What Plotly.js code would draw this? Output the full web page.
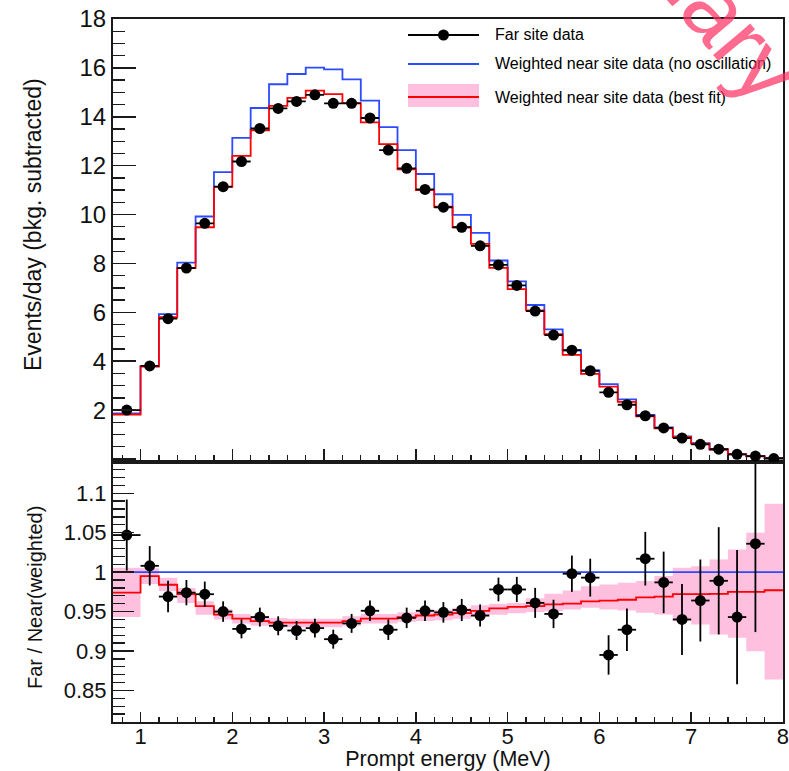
<!DOCTYPE html>
<html><head><meta charset="utf-8">
<script src="https://cdn.plot.ly/plotly-3.0.1.min.js"></script>
<style>html,body{margin:0;padding:0;background:#fff}#chart{width:789px;height:771px}</style>
</head><body><div id="chart"></div>
<script>
// ---------- data ----------
const binEdges = [0.7, 1.0, 1.2, 1.4, 1.6, 1.8, 2.0, 2.2, 2.4, 2.6, 2.8, 3.0, 3.2, 3.4, 3.6, 3.8, 4.0,
  4.2, 4.4, 4.6, 4.8, 5.0, 5.2, 5.4, 5.6, 5.8, 6.0, 6.2, 6.4, 6.6, 6.8, 7.0, 7.2, 7.4, 7.6, 7.8, 8.0];
const binCenters = [0.85, 1.1, 1.3, 1.5, 1.7, 1.9, 2.1, 2.3, 2.5, 2.7, 2.9, 3.1, 3.3, 3.5, 3.7, 3.9,
  4.1, 4.3, 4.5, 4.7, 4.9, 5.1, 5.3, 5.5, 5.7, 5.9, 6.1, 6.3, 6.5, 6.7, 6.9, 7.1, 7.3, 7.5, 7.7, 7.9];
// Events/day, far site
const farData = [2.00, 3.81, 5.74, 7.81, 9.64, 11.14, 12.17, 13.52, 14.34, 14.63, 14.90, 14.55, 14.55,
  13.95, 12.64, 11.89, 11.03, 10.30, 9.48, 8.72, 7.94, 7.10, 6.05, 5.07, 4.45, 3.61, 2.73, 2.22,
  1.77, 1.27, 0.86, 0.60, 0.40, 0.19, 0.12, 0.02];
// weighted near site, no oscillation
const nearNoOsc = [1.87, 3.80, 5.93, 8.03, 9.92, 11.74, 13.14, 14.36, 15.33, 15.75, 16.01, 15.94, 15.53,
  14.66, 13.58, 12.64, 11.66, 10.83, 9.99, 9.25, 8.12, 7.27, 6.30, 5.30, 4.45, 3.62, 3.06, 2.44,
  1.80, 1.29, 0.93, 0.65, 0.40, 0.20, 0.12, 0.05];
// weighted near site, best fit
const nearBestFit = [1.82, 3.78, 5.80, 7.82, 9.48, 11.13, 12.40, 13.45, 14.45, 14.77, 15.07, 14.93, 14.56,
  13.77, 12.88, 11.85, 11.00, 10.32, 9.48, 8.80, 7.82, 6.95, 6.08, 5.11, 4.26, 3.48, 2.96, 2.34,
  1.75, 1.25, 0.90, 0.63, 0.39, 0.19, 0.11, 0.04];
// ratio panel
const ratioCenters = [0.85, 1.1, 1.3, 1.5, 1.7, 1.9, 2.1, 2.3, 2.5, 2.7, 2.9, 3.1, 3.3, 3.5, 3.7, 3.9,
  4.1, 4.3, 4.5, 4.7, 4.9, 5.1, 5.3, 5.5, 5.7, 5.9, 6.1, 6.3, 6.5, 6.7, 6.9, 7.1, 7.3, 7.5, 7.7];
const ratioData = [1.047, 1.008, 0.969, 0.974, 0.972, 0.950, 0.928, 0.943, 0.932, 0.926, 0.929, 0.915,
  0.935, 0.951, 0.927, 0.942, 0.951, 0.949, 0.952, 0.945, 0.978, 0.978, 0.961, 0.947, 0.998, 0.993,
  0.895, 0.927, 1.017, 0.987, 0.940, 0.964, 0.989, 0.943, 1.036];
const ratioErr = [0.045, 0.025, 0.020, 0.016, 0.016, 0.013, 0.012, 0.012, 0.012, 0.012, 0.012, 0.012,
  0.012, 0.013, 0.013, 0.013, 0.013, 0.013, 0.014, 0.014, 0.015, 0.016, 0.019, 0.018, 0.023, 0.024,
  0.025, 0.027, 0.034, 0.039, 0.045, 0.052, 0.068, 0.085, 0.112];
const ratioBestFit = [0.974, 0.995, 0.984, 0.972, 0.957, 0.946, 0.941, 0.938, 0.936, 0.936, 0.936, 0.936,
  0.938, 0.941, 0.941, 0.943, 0.945, 0.946, 0.948, 0.951, 0.954, 0.956, 0.957, 0.959, 0.960, 0.963,
  0.964, 0.965, 0.968, 0.969, 0.972, 0.972, 0.9725, 0.975, 0.975, 0.977];
const bandLow = [0.943, 0.985, 0.976, 0.961, 0.946, 0.940, 0.935, 0.932, 0.930, 0.930, 0.930, 0.930,
  0.932, 0.935, 0.935, 0.937, 0.938, 0.939, 0.941, 0.943, 0.946, 0.948, 0.9495, 0.9505, 0.9526, 0.9547,
  0.9526, 0.9514, 0.9484, 0.9463, 0.9378, 0.9336, 0.9209, 0.9167, 0.8997, 0.8638];
const bandHigh = [1.0055, 1.005, 0.993, 0.980, 0.963, 0.953, 0.947, 0.944, 0.942, 0.941, 0.941, 0.941,
  0.944, 0.947, 0.947, 0.949, 0.951, 0.952, 0.955, 0.958, 0.960, 0.961, 0.967, 0.9725, 0.9768, 0.9822,
  0.9843, 0.9865, 0.9886, 0.995, 1.0055, 1.0076, 1.0161, 1.0288, 1.0499, 1.0867];
const noOscRatio = [1, 1];
const yTopTicks = [0, 2, 4, 6, 8, 10, 12, 14, 16, 18];
const legendLabels = ['Far site data', 'Weighted near site data (no oscillation)', 'Weighted near site data (best fit)'];
const xTitle = 'Prompt energy (MeV)';
const yTopTitle = 'Events/day (bkg. subtracted)';
const yBotTitle = 'Far / Near(weighted)';
const watermark = 'Preliminary';

// ---------- helpers ----------
const stepY = v => v.concat([v[v.length - 1]]);
const halfWidths = binCenters.map((c, i) => (binEdges[i + 1] - binEdges[i]) / 2);
const W = 789, H = 771, ML = 113, MR = 6, MT = 19, MB = 49;
const PW = W - ML - MR, PH = H - MT - MB;
const px = x => (x - ML) / PW;
const py = y => (H - MB - y) / PH;
const split = py(461.7);

const BLUE = '#2c4bff', RED = '#ff0000', PINK = '#ffbfdf', FONT = 'Liberation Sans, Arial, sans-serif';
const INK = '#1a1a1a';

const traces = [
  // top panel
  {x: binEdges, y: stepY(nearNoOsc), xaxis: 'x2', yaxis: 'y2', mode: 'lines',
   line: {color: BLUE, width: 1.8, shape: 'hv'}, showlegend: false},
  {x: binEdges, y: stepY(nearBestFit), xaxis: 'x2', yaxis: 'y2', mode: 'lines',
   line: {color: RED, width: 1.8, shape: 'hv'}, showlegend: false},
  {x: binCenters, y: farData, xaxis: 'x2', yaxis: 'y2', mode: 'markers',
   marker: {color: '#000', size: 11, symbol: 'circle'},
   error_x: {type: 'data', array: halfWidths, color: '#000', thickness: 1.8, width: 0},
   showlegend: false},
  // bottom panel
  {x: binEdges, y: stepY(bandLow), xaxis: 'x', yaxis: 'y', mode: 'lines',
   line: {width: 0, shape: 'hv', color: PINK}, showlegend: false, hoverinfo: 'skip'},
  {x: binEdges, y: stepY(bandHigh), xaxis: 'x', yaxis: 'y', mode: 'lines', fill: 'tonexty',
   fillcolor: PINK, line: {width: 0, shape: 'hv', color: PINK}, showlegend: false, hoverinfo: 'skip'},
  {x: [binEdges[0], binEdges[binEdges.length - 1]], y: noOscRatio, xaxis: 'x', yaxis: 'y', mode: 'lines',
   line: {color: BLUE, width: 1.6}, showlegend: false},
  {x: binEdges, y: stepY(ratioBestFit), xaxis: 'x', yaxis: 'y', mode: 'lines',
   line: {color: RED, width: 1.8, shape: 'hv'}, showlegend: false},
  {x: ratioCenters, y: ratioData, xaxis: 'x', yaxis: 'y', mode: 'markers',
   marker: {color: '#000', size: 11, symbol: 'circle'},
   error_x: {type: 'data', array: halfWidths.slice(0, ratioCenters.length), color: '#000', thickness: 1.8, width: 0},
   error_y: {type: 'data', array: ratioErr, color: '#000', thickness: 1.8, width: 0},
   showlegend: false}
];

const axisCommon = {showgrid: false, zeroline: false, showline: true, linecolor: INK, linewidth: 2,
  mirror: true, ticks: 'inside', tickcolor: INK, tickwidth: 1.5, ticklabeloverflow: 'allow',
  tickfont: {family: FONT, size: 22, color: '#111'}};
const minorCommon = {ticks: 'inside', tickcolor: INK, tickwidth: 1.3, showgrid: false};

const layout = {
  width: W, height: H,
  margin: {l: ML, r: MR, t: MT, b: MB, pad: 0},
  paper_bgcolor: '#fff', plot_bgcolor: '#fff',
  showlegend: false,
  font: {family: FONT, color: '#111'},
  xaxis: Object.assign({}, axisCommon, {anchor: 'y', domain: [0, 1], range: [0.7, 8.0005],
    tick0: 0, dtick: 1, ticklen: 10, ticklabelstandoff: -6,
    minor: Object.assign({dtick: 0.2, tick0: 0, ticklen: 5}, minorCommon),
    title: {text: xTitle, font: {family: FONT, size: 21.5, color: '#111'}, standoff: 4}}),
  xaxis2: Object.assign({}, axisCommon, {anchor: 'y2', matches: 'x', range: [0.7, 8.0005], showticklabels: false,
    tick0: 0, dtick: 1, ticklen: 13,
    minor: Object.assign({dtick: 0.2, tick0: 0, ticklen: 7}, minorCommon)}),
  yaxis: Object.assign({}, axisCommon, {anchor: 'x', domain: [0, split], range: [0.81, 1.14],
    tick0: 0, dtick: 0.05, ticklen: 21,
    minor: Object.assign({dtick: 0.01, tick0: 0, ticklen: 12}, minorCommon)}),
  yaxis2: Object.assign({}, axisCommon, {anchor: 'x2', domain: [split, 1], range: [-0.11, 18],
    tickmode: 'array', tickvals: yTopTicks, ticktext: yTopTicks.map(v => v === 0 ? '' : String(v)), ticklen: 23,
    tickfont: {family: FONT, size: 24, color: '#111'},
    minor: Object.assign({tickmode: 'linear', dtick: 0.5, tick0: 0, ticklen: 12}, minorCommon)}),
  shapes: [
    // legend symbols
    {type: 'rect', xref: 'paper', yref: 'paper', x0: px(408), x1: px(479), y0: py(107), y1: py(84),
     fillcolor: PINK, line: {width: 0}},
    {type: 'line', xref: 'paper', yref: 'paper', x0: px(408), x1: px(479), y0: py(97), y1: py(97),
     line: {color: RED, width: 2}},
    {type: 'line', xref: 'paper', yref: 'paper', x0: px(408), x1: px(479), y0: py(64), y1: py(64),
     line: {color: BLUE, width: 2}},
    {type: 'line', xref: 'paper', yref: 'paper', x0: px(408), x1: px(479), y0: py(35), y1: py(35),
     line: {color: '#000', width: 2}},
    {type: 'circle', xref: 'paper', yref: 'paper', xsizemode: 'pixel', ysizemode: 'pixel',
     xanchor: px(443.5), yanchor: py(35), x0: -5.5, x1: 5.5, y0: -5.5, y1: 5.5,
     fillcolor: '#000', line: {color: '#000', width: 0}}
  ],
  annotations: [
    {xref: 'paper', yref: 'paper', x: px(493), y: py(35), xanchor: 'left', yanchor: 'middle', showarrow: false,
     text: legendLabels[0], font: {family: FONT, size: 16, color: '#000'}},
    {xref: 'paper', yref: 'paper', x: px(493), y: py(64), xanchor: 'left', yanchor: 'middle', showarrow: false,
     text: legendLabels[1], font: {family: FONT, size: 16, color: '#000'}},
    {xref: 'paper', yref: 'paper', x: px(493), y: py(97), xanchor: 'left', yanchor: 'middle', showarrow: false,
     text: legendLabels[2], font: {family: FONT, size: 16, color: '#000'}},
    // y-axis titles
    {xref: 'paper', yref: 'paper', x: px(33), y: py(225), xanchor: 'center', yanchor: 'middle', showarrow: false,
     text: yTopTitle, textangle: -90, font: {family: FONT, size: 23, color: '#111'}},
    {xref: 'paper', yref: 'paper', x: px(35), y: py(598), xanchor: 'center', yanchor: 'middle', showarrow: false,
     text: yBotTitle, textangle: -90, font: {family: FONT, size: 20, color: '#111'}},
    // watermark
    {xref: 'paper', yref: 'paper', x: px(635), y: py(-88), xanchor: 'center', yanchor: 'middle', showarrow: false,
     text: watermark, textangle: 50, font: {family: FONT, size: 92, color: 'rgba(255,50,100,0.72)'}}
  ]
};

Plotly.newPlot('chart', traces, layout, {displayModeBar: false, staticPlot: true});
</script>
</body></html>
